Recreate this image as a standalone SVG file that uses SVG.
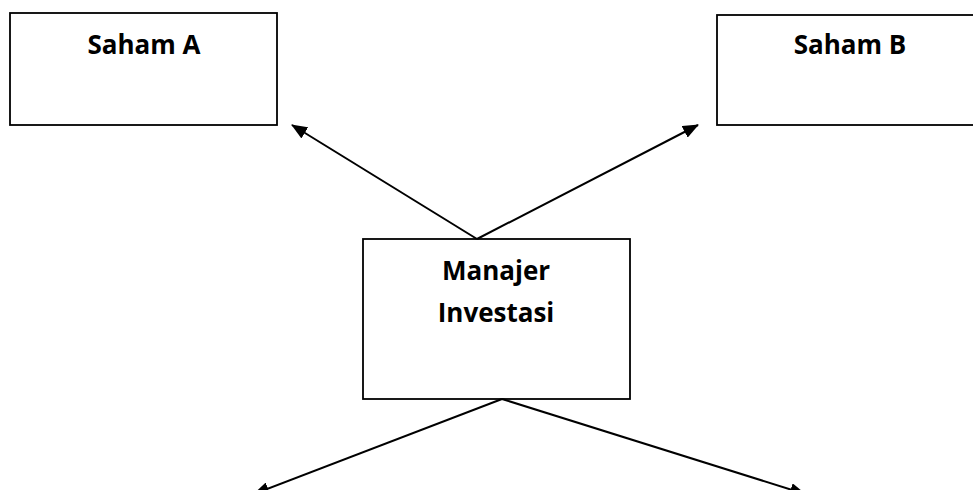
<svg xmlns="http://www.w3.org/2000/svg" width="973" height="490" viewBox="0 0 973 490">
  <style>
    .box { fill: #ffffff; stroke: #000000; stroke-width: 1.8; }
    .label { font-family: "Open Sans", "Liberation Sans", sans-serif; font-weight: 700; font-size: 26px; fill: #000000; text-anchor: middle; }
    .link { stroke: #000000; stroke-width: 2; fill: none; marker-end: url(#arrow); }
  </style>
  <defs>
    <marker id="arrow" markerUnits="userSpaceOnUse" markerWidth="16" markerHeight="13" refX="15" refY="6.5" orient="auto">
      <path d="M0,0 L16,6.5 L0,13 z" fill="#000000"/>
    </marker>
  </defs>
  <rect width="973" height="490" fill="#ffffff"/>

  <g id="saham-a">
    <rect class="box" x="10" y="13" width="267" height="112"/>
    <text class="label" x="144" y="54">Saham A</text>
  </g>

  <g id="saham-b">
    <rect class="box" x="717" y="15" width="267" height="110"/>
    <text class="label" x="850" y="54">Saham B</text>
  </g>

  <g id="manajer-investasi">
    <rect class="box" x="363" y="239" width="267" height="160"/>
    <text class="label" x="496" y="280">Manajer</text>
    <text class="label" x="496" y="322">Investasi</text>
  </g>

  <g id="connectors">
    <line class="link" x1="477" y1="239" x2="292" y2="125"/>
    <line class="link" x1="477" y1="239" x2="698" y2="125"/>
    <line class="link" x1="502" y1="399" x2="254" y2="494"/>
    <line class="link" x1="502" y1="399" x2="805" y2="494"/>
  </g>
</svg>
